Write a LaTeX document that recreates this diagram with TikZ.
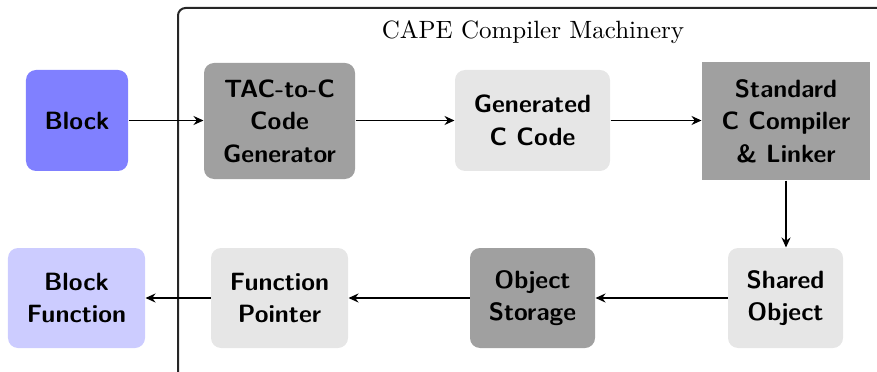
\documentclass[tikz,border=0pt]{standalone}
\usetikzlibrary{arrows.meta}
\definecolor{bluedark}{RGB}{128,128,255}
\definecolor{bluelight}{RGB}{204,204,255}
\definecolor{graydark}{RGB}{160,160,160}
\definecolor{graylight}{RGB}{230,230,230}
\tikzset{
  box/.style={rounded corners=4pt, align=center, font=\sffamily\bfseries\fontsize{10}{13}\selectfont, inner sep=0pt, text=black},
  arr/.style={-{Stealth[length=4pt,width=3.6pt]}, line width=0.6pt},
  frame/.style={line width=0.8pt, draw=black!85, rounded corners=3pt}
}
\begin{document}
\begin{tikzpicture}[x=0.4pt,y=-0.4pt]
\useasboundingbox (0,0) rectangle (877,372);
\begin{scope}
\clip (0,0) rectangle (877,372);
\draw[frame] (178,8) rectangle (890,385);
\end{scope}
\node[font=\fontsize{10}{12}\selectfont, anchor=base] (title) at (533,38.3) {CAPE Compiler Machinery};
\node[box, fill=bluedark, minimum width=40.8pt, minimum height=40.4pt] (block) at (77,120.5) {Block};
\node[box, fill=graydark, minimum width=60.4pt, minimum height=46.4pt] (tac) at (279.5,121) {TAC-to-C\\Code\\Generator};
\node[box, fill=graylight, minimum width=62pt, minimum height=40.4pt] (gen) at (532.5,120.5) {Generated\\C Code};
\node[box, sharp corners, fill=graydark, minimum width=67.2pt, minimum height=47.2pt] (std) at (786,121) {Standard\\C Compiler\\\& Linker};
\node[box, fill=graylight, minimum width=46pt, minimum height=40pt] (shared) at (785.5,298) {Shared\\Object};
\node[box, fill=graydark, minimum width=50pt, minimum height=40pt] (storage) at (532.5,298) {Object\\Storage};
\node[box, fill=graylight, minimum width=54.8pt, minimum height=40pt] (fptr) at (279.5,298) {Function\\Pointer};
\node[box, fill=bluelight, minimum width=54.8pt, minimum height=40pt] (bfunc) at (76.5,298) {Block\\Function};
\draw[arr] (block.east) -- (block.east -| tac.west);
\draw[arr] (tac.east |- gen.west) -- (gen.west);
\draw[arr] (gen.east) -- (gen.east -| std.west);
\draw[arr] (std.south) -- (std.south |- shared.north);
\draw[arr] (shared.west) -- (storage.east);
\draw[arr] (storage.west) -- (fptr.east);
\draw[arr] (fptr.west) -- (bfunc.east);
\end{tikzpicture}
\end{document}
